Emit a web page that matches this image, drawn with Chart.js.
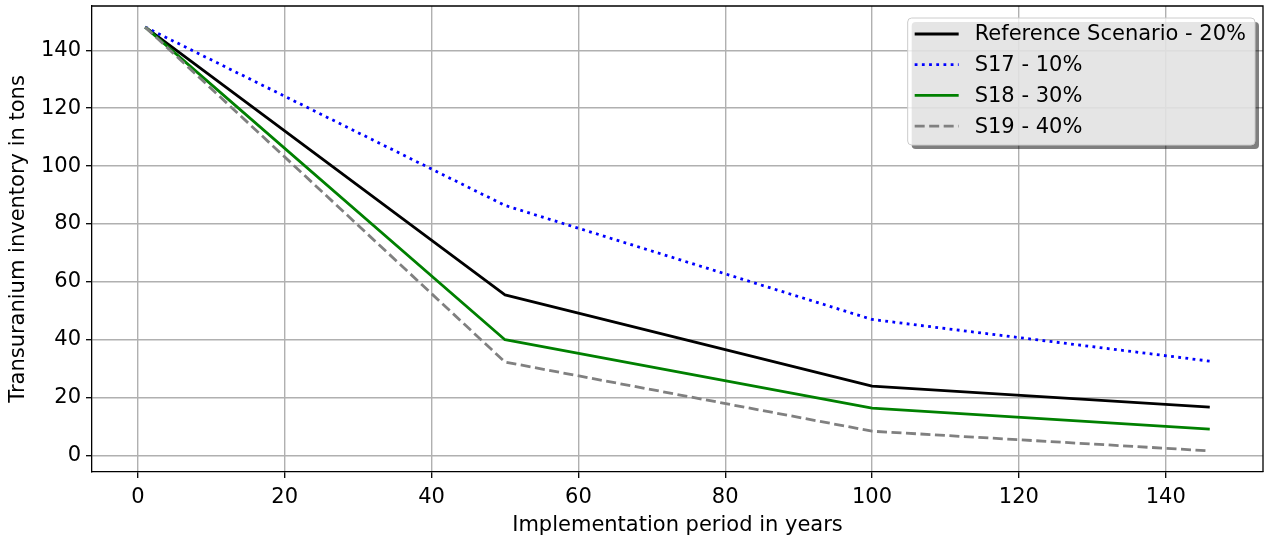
<!DOCTYPE html>
<html>
<head>
<meta charset="utf-8">
<script src="https://cdn.jsdelivr.net/npm/chart.js@4"></script>
<style>
  html, body { margin: 0; padding: 0; background: #fff; }
  #wrap { width: 1264px; height: 537px; position: relative; }
</style>
</head>
<body>
<div id="wrap"><canvas id="chart"></canvas></div>
<script>
// values
const years = [1, 50, 100, 146];
const referenceScenario = [148, 55.5, 24.0, 16.7];
const s17 = [148, 86.4, 47.0, 32.6];
const s18 = [148, 40.0, 16.4, 9.1];
const s19 = [148, 32.3, 8.4, 1.6];

const seriesLabels = ['Reference Scenario - 20%', 'S17 - 10%', 'S18 - 30%', 'S19 - 40%'];
const xTicks = [0, 20, 40, 60, 80, 100, 120, 140];
const yTicks = [0, 20, 40, 60, 80, 100, 120, 140];

function points(values) {
    return years.map((x, i) => ({ x: x, y: values[i] }));
}

Chart.defaults.font.family = "'DejaVu Sans', sans-serif";
Chart.defaults.font.size = 21;
Chart.defaults.color = '#000';

// top and right spines
const frameBox = {
    id: 'frameBox',
    afterDatasetsDraw(chart) {
        const a = chart.chartArea;
        const ctx = chart.ctx;
        ctx.save();
        ctx.strokeStyle = '#000';
        ctx.lineWidth = 1.3;
        ctx.beginPath();
        ctx.moveTo(a.left, a.top);
        ctx.lineTo(a.right, a.top);
        ctx.lineTo(a.right, a.bottom);
        ctx.stroke();
        ctx.restore();
    }
};

// matplotlib style legend box with shadow
const boxLegend = {
    id: 'boxLegend',
    afterDraw(chart) {
        const ctx = chart.ctx;
        const a = chart.chartArea;
        ctx.save();
        ctx.font = "21px 'DejaVu Sans', sans-serif";
        let textW = 0;
        chart.data.datasets.forEach(ds => {
            textW = Math.max(textW, ctx.measureText(ds.label).width);
        });
        const w = 7 + 44 + 16 + textW + 9;
        const h = 127;
        const right = a.right - 8;
        const left = right - w;
        const top = a.top + 12;

        function rounded(x, y, ww, hh, r) {
            ctx.beginPath();
            ctx.moveTo(x + r, y);
            ctx.arcTo(x + ww, y, x + ww, y + hh, r);
            ctx.arcTo(x + ww, y + hh, x, y + hh, r);
            ctx.arcTo(x, y + hh, x, y, r);
            ctx.arcTo(x, y, x + ww, y, r);
            ctx.closePath();
        }

        ctx.fillStyle = 'rgba(0,0,0,0.5)';
        rounded(left + 4, top + 4, w, h, 4);
        ctx.fill();
        ctx.fillStyle = 'rgba(255,255,255,0.8)';
        rounded(left, top, w, h, 4);
        ctx.fill();
        ctx.strokeStyle = '#cccccc';
        ctx.lineWidth = 1;
        ctx.stroke();

        chart.data.datasets.forEach((ds, i) => {
            const y = top + 16 + i * 30.7;
            ctx.strokeStyle = ds.borderColor;
            ctx.lineWidth = ds.borderWidth;
            ctx.setLineDash(ds.borderDash || []);
            ctx.lineCap = 'butt';
            ctx.beginPath();
            ctx.moveTo(left + 7, y);
            ctx.lineTo(left + 51, y);
            ctx.stroke();
            ctx.setLineDash([]);
            ctx.fillStyle = '#000';
            ctx.textBaseline = 'middle';
            ctx.textAlign = 'left';
            ctx.fillText(ds.label, left + 67, y + 1);
        });
        ctx.restore();
    }
};

new Chart(document.getElementById('chart'), {
    type: 'line',
    data: {
        datasets: [
            { label: seriesLabels[0], data: points(referenceScenario), borderColor: '#000000', borderWidth: 2.8, order: 3 },
            { label: seriesLabels[1], data: points(s17), borderColor: '#0000ff', borderWidth: 2.8, borderDash: [2.8, 4.4], order: 2 },
            { label: seriesLabels[2], data: points(s18), borderColor: '#008000', borderWidth: 2.8, order: 1 },
            { label: seriesLabels[3], data: points(s19), borderColor: '#808080', borderWidth: 2.8, borderDash: [10, 4.5], order: 0 }
        ]
    },
    options: {
        responsive: true,
        maintainAspectRatio: false,
        animation: false,
        devicePixelRatio: 1,
        elements: {
            point: { radius: 0, hoverRadius: 0 },
            line: { tension: 0, borderCapStyle: 'butt', borderJoinStyle: 'round' }
        },
        layout: { padding: { top: 6, right: 1, left: 0, bottom: 0 } },
        plugins: {
            legend: { display: false },
            tooltip: { enabled: false }
        },
        scales: {
            x: {
                type: 'linear',
                min: -6.25,
                max: 153.25,
                afterBuildTicks: s => { s.ticks = xTicks.map(v => ({ value: v })); },
                afterFit: s => { s.height = 65; s.paddingLeft = 0; s.paddingRight = 0; },
                ticks: { padding: 7, includeBounds: false, color: '#000' },
                grid: { color: '#b0b0b0', lineWidth: 1.4, tickColor: '#000', tickLength: 6, tickWidth: 1.3 },
                border: { display: true, color: '#000', width: 1.3 },
                title: { display: true, text: 'Implementation period in years', color: '#000', padding: { top: 0, bottom: -1 } }
            },
            y: {
                type: 'linear',
                min: -5.7,
                max: 155.3,
                afterBuildTicks: s => { s.ticks = yTicks.map(v => ({ value: v })); },
                afterFit: s => { s.width = 92; s.paddingTop = 0; s.paddingBottom = 0; },
                ticks: { padding: 5, includeBounds: false, color: '#000' },
                grid: { color: '#b0b0b0', lineWidth: 1.4, tickColor: '#000', tickLength: 6, tickWidth: 1.3 },
                border: { display: true, color: '#000', width: 1.3 },
                title: { display: true, text: 'Transuranium inventory in tons', color: '#000', padding: { top: 6, bottom: 0 } }
            }
        }
    },
    plugins: [frameBox, boxLegend]
});
</script>
</body>
</html>
